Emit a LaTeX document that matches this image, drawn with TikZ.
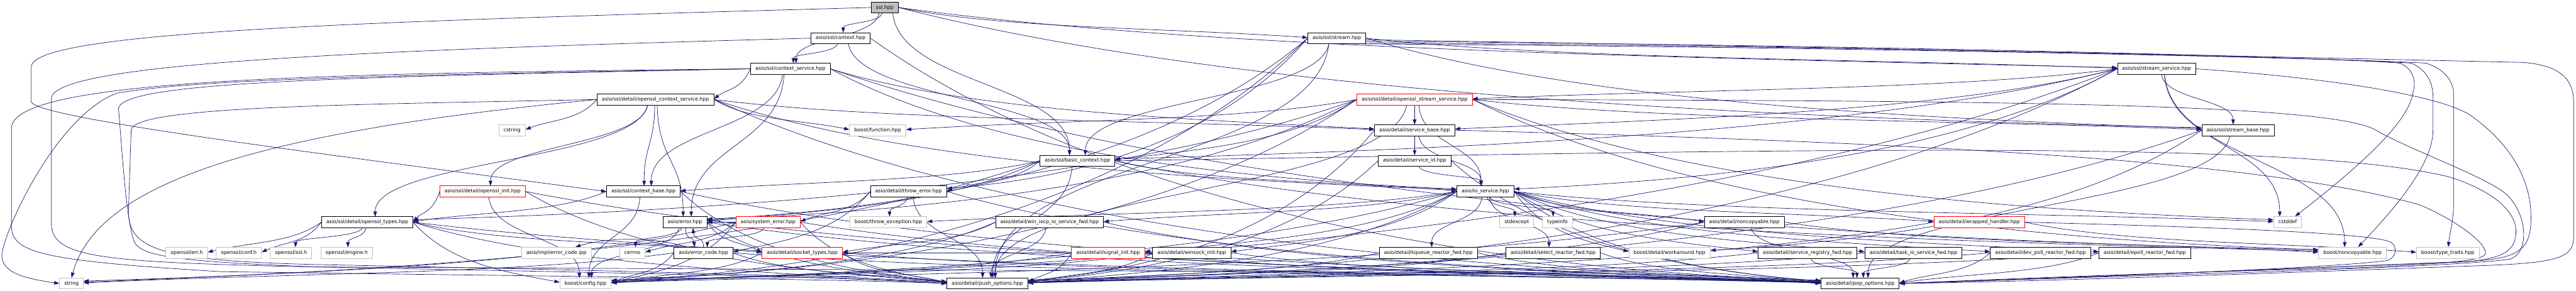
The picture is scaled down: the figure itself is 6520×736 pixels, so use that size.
\documentclass[tikz,border=0pt]{standalone}
\usepackage{fontspec}
\newfontfamily\dejavu{DejaVu Sans}
\usetikzlibrary{arrows.meta,calc}
\definecolor{edgec}{HTML}{191970}
\definecolor{extgray}{HTML}{BFBFBF}
\definecolor{rootgray}{HTML}{BFBFBF}
\pgfdeclarelayer{back}
\pgfdeclarelayer{edges}
\pgfsetlayers{back,edges,main}
\newcommand\dfont{\dejavu\fontsize{12.6pt}{15pt}\selectfont}
% automatic graphviz-like connector
\newcommand\E[2]{%
 \draw[edge] let
  \p1=(#1.center), \p2=(#2.center), \p3=(#1.west), \p4=(#1.east), \p5=(#2.west), \p6=(#2.east),
  \n1={\x2-\x1}, \n2={\y2-\y1},
  \n3={ifthenelse(abs(\n1)>2.5*abs(\n2),1,0)},
  \n4={ifthenelse(\n2>0,1,-1)},
  \n5={ifthenelse(\n3>0.5, ifthenelse(\n1>0,\x4,\x3), \x1+max(-20,min(20,0.06*\n1)))},
  \n6={ifthenelse(\n3>0.5, \y1, \y1+14*\n4)},
  \n7={ifthenelse(\n3>0.5, ifthenelse(\n1>0,\x5,\x6), \x2+max(-20,min(20,-0.06*\n1)))},
  \n8={ifthenelse(\n3>0.5, \y2+max(-8,min(8,-0.02*\n2)), \y2-14*\n4)},
  \n9={\n8-\n6}
 in (\n5,\n6) .. controls ({\n5+ifthenelse(\n3>0.5,0.25,0.04)*(\n7-\n5)},{\n6+ifthenelse(\n3>0.5,0.7,0.5)*\n9})
   and ({\n7-ifthenelse(\n3>0.5,0.35,0)*(\n7-\n5)},{\n8-ifthenelse(\n3>0.5,min(25,0.5*abs(\n9))*\n4,0.5*\n9)}) .. (\n7,\n8);%
}
\newcommand\Es[2]{\foreach \t in {#2}{\E{#1}{\t}}}
\begin{document}
\begin{tikzpicture}[x=1pt,y=1pt,
  nd/.style={draw=black, fill=white, line width=1.3pt, inner xsep=12pt, inner ysep=0pt,
    minimum height=28pt, text height=9.6pt, text depth=3pt, font=\dfont},
  ext/.style={nd, draw=extgray},
  trunc/.style={nd, draw=red},
  root/.style={nd, fill=rootgray},
  edge/.style={draw=edgec, line width=1.1pt, -{Triangle[length=13pt,width=9pt]}}]
\useasboundingbox (0,0) rectangle (6520,-736);
\begin{pgfonlayer}{back}
\fill[white] (0,0) rectangle (6520,-736);
\end{pgfonlayer}
% row 1
\node[root] (ssl) at (2239.5,-19) {ssl.hpp};
% row 2
\node[nd] (ctx) at (2127.5,-96.7) {asio/ssl/context.hpp};
\node[nd] (stream) at (3383.5,-96.7) {asio/ssl/stream.hpp};
% row 3
\node[nd] (ctxsvc) at (2000.5,-174.3) {asio/ssl/context\_service.hpp};
\node[nd] (strsvc) at (5458.5,-174.3) {asio/ssl/stream\_service.hpp};
% row 4
\node[nd] (octxsvc) at (1659,-252) {asio/ssl/detail/openssl\_context\_service.hpp};
\node[trunc] (ostrsvc) at (3580.5,-252) {asio/ssl/detail/openssl\_stream\_service.hpp};
% row 5
\node[ext] (cstring) at (1296,-329.7) {cstring};
\node[ext] (bfunc) at (2221.5,-329.7) {boost/function.hpp};
\node[nd] (svcbase) at (3580.5,-329.7) {asio/detail/service\_base.hpp};
\node[nd] (strbase) at (5664.5,-329.7) {asio/ssl/stream\_base.hpp};
% row 6
\node[nd] (basicctx) at (2727,-407.3) {asio/ssl/basic\_context.hpp};
\node[nd] (svcid) at (3580.5,-407.3) {asio/detail/service\_id.hpp};
% row 7
\node[trunc] (oinit) at (1221.5,-485) {asio/ssl/detail/openssl\_init.hpp};
\node[nd] (ctxbase) at (1628.5,-485) {asio/ssl/context\_base.hpp};
\node[nd] (throwerr) at (2299.5,-485) {asio/detail/throw\_error.hpp};
\node[nd] (iosvc) at (3759.5,-485) {asio/io\_service.hpp};
% row 8
\node[nd] (otypes) at (929.5,-562.7) {asio/ssl/detail/openssl\_types.hpp};
\node[nd] (error) at (1733.5,-562.7) {asio/error.hpp};
\node[trunc] (syserr) at (1944,-562.7) {asio/system\_error.hpp};
\node[ext] (bthrow) at (2248.5,-562.7) {boost/throw\_exception.hpp};
\node[nd] (winiocp) at (2656.5,-562.7) {asio/detail/win\_iocp\_io\_service\_fwd.hpp};
\node[ext] (stdexcept) at (3839,-562.7) {stdexcept};
\node[ext] (typeinfo) at (3942,-562.7) {typeinfo};
\node[nd] (noncopy) at (4415,-562.7) {asio/detail/noncopyable.hpp};
\node[trunc] (wrapped) at (5009.5,-562.7) {asio/detail/wrapped\_handler.hpp};
\node[ext] (cstddef) at (5790,-562.7) {cstddef};
% row 9
\node[ext] (errh) at (472.5,-640.3) {openssl/err.h};
\node[ext] (confh) at (604.5,-640.3) {openssl/conf.h};
\node[ext] (sslh) at (736.5,-640.3) {openssl/ssl.h};
\node[ext] (engineh) at (877.5,-640.3) {openssl/engine.h};
\node[ext] (ecipp) at (1408.5,-640.3) {asio/impl/error\_code.ipp};
\node[ext] (cerrno) at (1600.5,-640.3) {cerrno};
\node[nd] (errcode) at (1780.5,-640.3) {asio/error\_code.hpp};
\node[trunc] (socktypes) at (2030.5,-640.3) {asio/detail/socket\_types.hpp};
\node[trunc] (siginit) at (2804.5,-640.3) {asio/detail/signal\_init.hpp};
\node[nd] (winsock) at (3016.5,-640.3) {asio/detail/winsock\_init.hpp};
\node[nd] (kqueue) at (3615,-640.3) {asio/detail/kqueue\_reactor\_fwd.hpp};
\node[nd] (select) at (3931,-640.3) {asio/detail/select\_reactor\_fwd.hpp};
\node[ext] (workaround) at (4225.5,-640.3) {boost/detail/workaround.hpp};
\node[nd] (svcreg) at (4575,-640.3) {asio/detail/service\_registry\_fwd.hpp};
\node[nd] (taskio) at (4843,-640.3) {asio/detail/task\_io\_service\_fwd.hpp};
\node[nd] (devpoll) at (5164.5,-640.3) {asio/detail/dev\_poll\_reactor\_fwd.hpp};
\node[nd] (epoll) at (5428.5,-640.3) {asio/detail/epoll\_reactor\_fwd.hpp};
\node[ext] (bnoncopy) at (5954.5,-640.3) {boost/noncopyable.hpp};
\node[ext] (btypetraits) at (6195.5,-640.3) {boost/type\_traits.hpp};
% row 10
\node[ext] (string) at (181,-718) {string};
\node[ext] (bconfig) at (1482,-718) {boost/config.hpp};
\node[nd] (push) at (2499,-718) {asio/detail/push\_options.hpp};
\node[nd] (pop) at (4708,-718) {asio/detail/pop\_options.hpp};

\begin{pgfonlayer}{edges}
% ---- hand-routed loops on the left
\draw[edge] (ssl.west) .. controls (900,-55) and (79,-80) .. (79,-170) -- (79,-257) .. controls (79,-300) and (900,-400) .. (ctxbase.west);
\draw[edge] (ctx.west) .. controls (900,-128) and (130,-160) .. (130,-250) -- (130,-566) .. controls (130,-650) and (250,-662) .. (700,-674) .. controls (1500,-690) and (2100,-700) .. (push.west);
\draw[edge] (ctxsvc.west) .. controls (1000,-190) and (500,-200) .. (296,-236) .. controls (150,-290) and (20,-560) .. (5,-641) .. controls (0,-690) and (60,-705) .. (string.west);
\draw[edge] (ctxsvc.west) .. controls (800,-186) and (29,-200) .. (29,-325) -- (29,-571) .. controls (29,-640) and (100,-660) .. (560,-688) .. controls (1400,-700) and (2100,-706) .. (push.west);
\draw[edge] (ctxsvc.west) .. controls (900,-195) and (320,-205) .. (300,-273) .. controls (310,-400) and (320,-560) .. (340,-613) .. controls (360,-650) and (450,-662) .. (800,-676) -- (4000,-692) .. controls (4400,-696) and (4500,-712) .. (pop.west);
\draw[edge] (octxsvc.west) .. controls (900,-265) and (332,-268) .. (332,-330) -- (325,-540) .. controls (330,-630) and (400,-660) .. (800,-670) .. controls (1600,-686) and (2150,-700) .. (push.west);
\draw[edge] (octxsvc.west) .. controls (700,-330) and (250,-450) .. (string.north);
% ---- hand-routed loops on the right
\draw[edge] (stream.-3) .. controls (5000,-125) and (6000,-150) .. (6384,-158) .. controls (6480,-165) and (6514,-200) .. (6514,-260) -- (6514,-600) .. controls (6514,-650) and (6480,-665) .. (6300,-672) .. controls (5800,-690) and (5200,-712) .. (pop.east);
\draw[edge] (stream.-6) .. controls (4800,-115) and (5900,-145) .. (6075,-160) .. controls (6110,-175) and (6115,-210) .. (6108,-231) .. controls (6100,-300) and (6000,-400) .. (cstddef);
\draw[edge] (stream.-9) .. controls (4800,-118) and (5950,-148) .. (6103,-160) .. controls (6150,-180) and (6158,-220) .. (6158,-245) -- (6158,-330) .. controls (6158,-420) and (6050,-540) .. (bnoncopy);
\draw[edge] (stream.-12) .. controls (4800,-120) and (6000,-150) .. (6140,-160) .. controls (6190,-175) and (6210,-210) .. (6210,-236) -- (6210,-519) .. controls (6210,-560) and (6200,-590) .. (btypetraits);
\draw[edge] (strsvc.east) .. controls (5800,-190) and (6150,-230) .. (6250,-290) .. controls (6350,-360) and (6406,-450) .. (6406,-550) .. controls (6406,-630) and (6380,-655) .. (6250,-662) .. controls (5800,-680) and (5200,-705) .. (pop.east);
\draw[edge] (ostrsvc.east) .. controls (5000,-255) and (5900,-260) .. (6014,-330) .. controls (6100,-380) and (6300,-450) .. (6347,-495) .. controls (6400,-550) and (6400,-640) .. (6354,-656) .. controls (6200,-680) and (5300,-700) .. (pop.east);
\draw[edge] (basicctx.east) .. controls (4500,-380) and (5800,-350) .. (6199,-448) .. controls (6300,-480) and (6370,-530) .. (6368,-590) .. controls (6365,-640) and (6330,-660) .. (6200,-665) .. controls (5800,-680) and (5200,-705) .. (pop.east);
\draw[edge] (svcbase.east) .. controls (4800,-360) and (5700,-400) .. (6125,-519) .. controls (6200,-550) and (6291,-610) .. (6291,-641) .. controls (6291,-660) and (6200,-668) .. (5940,-679) .. controls (5500,-690) and (5100,-705) .. (pop.east);
\draw[edge] (wrapped.east) .. controls (5600,-575) and (6000,-590) .. (6051,-613) .. controls (6070,-625) and (6065,-655) .. (6040,-660) .. controls (5900,-680) and (5200,-705) .. (pop.east);
% ---- short hand-routed ones
\draw[edge] ([xshift=2pt]error.south) .. controls +(0,-35) and +(-5,30) .. ([xshift=-22pt]errcode.north);
\draw[edge] ([xshift=0pt]errcode.north) .. controls +(0,30) and +(5,-35) .. ([xshift=20pt]error.south);
\draw[edge] (errcode) .. controls (1660,-600) and (1540,-600) .. (ecipp);
% ---- automatic connectors
\Es{ssl}{ctx,ctxsvc,basicctx,stream,strsvc,strbase}
\Es{ctx}{ctxsvc,basicctx,pop}
\Es{basicctx}{push,string,bnoncopy,error,iosvc,ctxbase,throwerr}
\Es{ctxbase}{push,bconfig,pop,otypes}
\Es{ctxsvc}{bnoncopy,error,iosvc,svcbase,ctxbase,octxsvc}
\Es{octxsvc}{cstring,bfunc,error,iosvc,svcbase,ctxbase,oinit,otypes,pop}
\Es{oinit}{push,bconfig,pop,otypes}
\Es{otypes}{push,bconfig,confh,sslh,engineh,errh,pop,socktypes}
\Es{stream}{push,bconfig,error,basicctx,strbase,strsvc,throwerr}
\Es{strbase}{push,workaround,pop}
\Es{strsvc}{push,cstddef,bconfig,bnoncopy,iosvc,svcbase,basicctx,strbase,ostrsvc}
\Es{ostrsvc}{push,cstddef,bconfig,bnoncopy,bfunc,error,iosvc,svcbase,basicctx,strbase,otypes}
\Es{svcbase}{push,iosvc,svcid}
\Es{svcid}{push,iosvc,pop}
\Es{error}{push,bconfig,cerrno,pop,socktypes}
\Es{errcode}{push,bconfig,string,pop}
\Es{syserr}{push,bconfig,cerrno,string,pop,error,errcode}
\Es{throwerr}{push,bthrow,pop,errcode,syserr}
\Es{iosvc}{push,cstddef,stdexcept,typeinfo,bconfig,bthrow,workaround,pop,devpoll,epoll,kqueue,noncopy,select,svcreg,siginit,taskio,winiocp,winsock,wrapped}
\Es{noncopy}{push,bnoncopy,bconfig,pop}
\Es{siginit}{push,bconfig,pop}
\Es{winsock}{push,bconfig,pop,socktypes}
\Es{winiocp}{push,bconfig,pop,socktypes}
\Es{devpoll}{push,pop}
\Es{epoll}{push,pop}
\Es{kqueue}{push,pop}
\Es{select}{push,pop}
\Es{svcreg}{push,pop}
\Es{taskio}{push,pop}
\Es{wrapped}{push,btypetraits}
\Es{socktypes}{push,bconfig,pop}
\end{pgfonlayer}
\end{tikzpicture}
\end{document}
